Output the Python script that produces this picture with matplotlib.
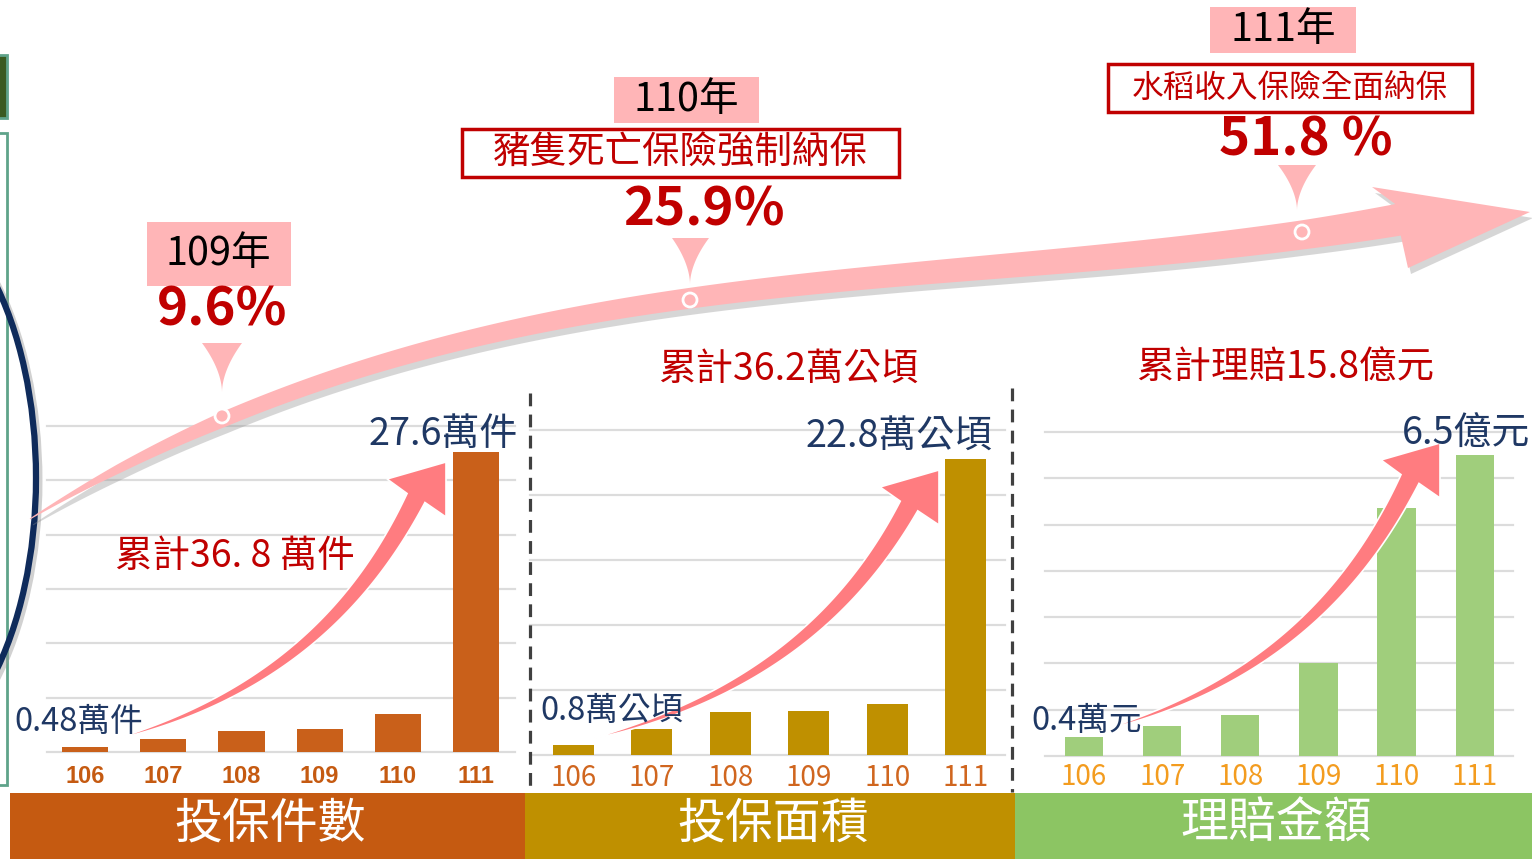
import numpy as np
import matplotlib
matplotlib.use("Agg")
import matplotlib.pyplot as plt
from matplotlib.patches import Polygon, Rectangle, Ellipse, Circle

plt.rcParams['font.family'] = ['Noto Sans CJK TC', 'DejaVu Sans']

W, H = 1532, 859

# ---- data ----
years = ['106', '107', '108', '109', '110', '111']
policies = [0.48, 1.2, 1.95, 2.1, 3.5, 27.6]      # 投保件數 (萬件)
area = [0.8, 2.0, 3.3, 3.4, 3.9, 22.8]            # 投保面積 (萬公頃)
claims = [0.4, 0.65, 0.88, 2.0, 5.35, 6.5]        # 理賠金額 (億元)

panel_titles = ['投保件數', '投保面積', '理賠金額']
first_labels = ['0.48萬件', '0.8萬公頃', '0.4萬元']
last_labels = ['27.6萬件', '22.8萬公頃', '6.5億元']
total_labels = ['累計36. 8 萬件', '累計36.2萬公頃', '累計理賠15.8億元']

cov_years = ['109年', '110年', '111年']
cov_rates = ['9.6%', '25.9%', '51.8 %']
cov_notes = [None, '豬隻死亡保險強制納保', '水稻收入保險全面納保']

RED = '#c00000'
NAVY = '#1f3864'
PINK = '#ffb5b7'
ARROW = '#ff7c80'


def bezier(p0, p1, p2, p3, n=120):
    t = np.linspace(0, 1, n)[:, None]
    return (1 - t) ** 3 * p0 + 3 * t * (1 - t) ** 2 * p1 + 3 * t ** 2 * (1 - t) * p2 + t ** 3 * p3


def band_sides(pts, widths):
    d = np.gradient(pts, axis=0)
    d /= np.linalg.norm(d, axis=1)[:, None]
    nrm = np.column_stack([-d[:, 1], d[:, 0]])
    upper = pts - nrm * widths[:, None] / 2
    lower = pts + nrm * widths[:, None] / 2
    return upper, lower


def small_arrow(ax, p0, p3):
    p0 = np.array(p0, float)
    p3 = np.array(p3, float)
    d = p3 - p0
    c1 = p0 + np.array([0.574 * d[0], 0.2 * d[1]])
    c2 = p3 + np.array([-0.155 * d[0], -0.383 * d[1]])
    pts = bezier(p0, c1, c2, p3)
    t = np.linspace(0, 1, len(pts))
    upper, lower = band_sides(pts, 0.5 + 19.5 * t ** 0.75)
    head = p3 + np.array([[-29, -19], [30, -36], [30, 19]])
    poly = np.vstack([upper, head, lower[::-1]])
    ax.add_patch(Polygon(poly, closed=True, facecolor=ARROW, edgecolor='white', lw=1.2, zorder=6))


def bar_panel(rect, values, xlim, width, ymax, step, color, tick_color, weight, family, fs, pad):
    l, t, r, b = rect
    ax = fig.add_axes([l / W, 1 - b / H, (r - l) / W, (b - t) / H])
    x = np.arange(len(years))
    ax.bar(x, values, width=width, color=color, zorder=3)
    ax.set_xlim(*xlim)
    ax.set_ylim(0, ymax)
    ax.set_yticks(np.arange(0, ymax + step / 2, step))
    ax.yaxis.grid(True, color='#dcdcdc', lw=1.6, zorder=0)
    for gl in ax.get_ygridlines():
        gl.set_clip_on(False)
    ax.set_xticks(x)
    ax.set_xticklabels(years, color=tick_color, fontsize=fs, fontweight=weight, family=family)
    ax.tick_params(left=False, labelleft=False, bottom=False, pad=pad)
    for s in ax.spines.values():
        s.set_visible(False)
    ax.patch.set_alpha(0)
    return ax


fig = plt.figure(figsize=(W / 100, H / 100), dpi=100)

bar_panel((47, 426, 515, 752), policies, (-0.49, 5.5), 0.59, 30, 5,
          '#c9601a', '#c55a11', 'bold', ['Liberation Sans', 'DejaVu Sans'], 17, 6)
bar_panel((530, 430, 1005, 755), area, (-0.55, 5.5), 0.52, 25, 5,
          '#bf9000', '#d0661f', 'normal', ['Noto Sans CJK TC', 'DejaVu Sans'], 20, 2)
bar_panel((1045, 432, 1513, 756), claims, (-0.5, 5.49), 0.49, 7, 1,
          '#a0ce7c', '#f39c1f', 'normal', ['Noto Sans CJK TC', 'DejaVu Sans'], 20, 1)

ov = fig.add_axes([0, 0, 1, 1], zorder=5)
ov.set_xlim(0, W)
ov.set_ylim(H, 0)
ov.axis('off')

# left edge decorations
ov.add_patch(Rectangle((-20, 133), 27, 652, fill=False, edgecolor='#5fa38a', lw=2))
ov.add_patch(Rectangle((-20, 55), 27, 63, facecolor='#3a5a20', edgecolor='#5fa38a', lw=2))
ov.add_patch(Ellipse((-111, 481), 300, 568, fill=False, edgecolor='#9a9a9a', lw=5, alpha=0.45))
ov.add_patch(Ellipse((-114, 478), 300, 568, fill=False, edgecolor='#0f2b5b', lw=4.5))

# big coverage arrow
kx = np.array([30, 222, 690, 1302, 1398])
ky = np.array([520, 418, 300, 232, 222])
coef = np.polyfit(kx, ky, 3)
xs = np.linspace(30, 1398, 200)
pts = np.column_stack([xs, np.polyval(coef, xs)])
ws = np.interp(xs, [30, 120, 222, 535, 906, 1302, 1398], [1, 9, 15, 19, 23, 29, 32])
up, lo = band_sides(pts, ws)
big = np.vstack([up, [[1372, 187], [1530, 212], [1408, 268]], lo[::-1]])
ov.add_patch(Polygon(big + [3, 6], closed=True, facecolor='#8c8c8c', edgecolor='none', alpha=0.35, zorder=2))
ov.add_patch(Polygon(big, closed=True, facecolor=PINK, edgecolor='none', zorder=3))

# markers on the arrow
ov.add_patch(Circle((222, 416), 7, facecolor=PINK, edgecolor='white', lw=2, zorder=4))
ov.add_patch(Circle((690, 300), 7, facecolor=PINK, edgecolor='white', lw=2, zorder=4))
ov.add_patch(Circle((1302, 232), 7, facecolor=PINK, edgecolor='white', lw=2, zorder=4))


def pointer(ax, xl, xr, ytop, tip):
    s = np.linspace(0, 1, 20)
    left = np.column_stack([xl + (tip[0] - xl) * (1 - (1 - s) ** 1.8), ytop + (tip[1] - ytop) * s])
    right = np.column_stack([xr + (tip[0] - xr) * (1 - (1 - s) ** 1.8), ytop + (tip[1] - ytop) * s])
    poly = np.vstack([left, right[::-1]])
    ax.add_patch(Polygon(poly, closed=True, facecolor=PINK, edgecolor='none', zorder=4))


# callouts
callouts = [
    dict(box=(147, 222, 291, 286), ytxt=(218, 254), note=None, rate=(222, 310), ptr=(202, 242, 343, (222, 392))),
    dict(box=(614, 77, 759, 123), ytxt=(686, 100), note=(462, 129, 899, 177, 27), rate=(704, 210),
         ptr=(672, 709, 238, (690, 284))),
    dict(box=(1210, 7, 1356, 53), ytxt=(1283, 30), note=(1108, 64, 1472, 112, 22.8), rate=(1306, 140),
         ptr=(1278, 1316, 165, (1297, 210))),
]
for c, yr, rate, note in zip(callouts, cov_years, cov_rates, cov_notes):
    x0, y0, x1, y1 = c['box']
    ov.add_patch(Rectangle((x0, y0), x1 - x0, y1 - y0, facecolor=PINK, edgecolor='none', zorder=4))
    ov.text(*c['ytxt'], yr, ha='center', va='center', fontsize=28.5, color='black', zorder=7)
    if note:
        nx0, ny0, nx1, ny1, fs = c['note']
        ov.add_patch(Rectangle((nx0, ny0), nx1 - nx0, ny1 - ny0, facecolor='white', edgecolor=RED, lw=2.5, zorder=4))
        ov.text((nx0 + nx1) / 2, (ny0 + ny1) / 2, note, ha='center', va='center', fontsize=fs, color=RED, zorder=7)
    ov.text(*c['rate'], rate, ha='center', va='center', fontsize=38, color=RED, fontweight='bold', zorder=7)
    xl, xr, yt, tip = c['ptr']
    pointer(ov, xl, xr, yt, tip)

# dashed separators
ov.plot([530, 530], [393, 786], color='#404040', lw=2.3, dashes=(4, 2.6), zorder=4)
ov.plot([1012, 1012], [388, 792], color='#404040', lw=2.3, dashes=(4, 2.6), zorder=4)

# growth arrows inside panels
small_arrow(ov, (120, 738), (416, 498))
small_arrow(ov, (595, 738), (909, 506))
small_arrow(ov, (1110, 728), (1410, 479))

# panel texts
first_pos = [(14, 722), (540, 711), (1031, 721)]
last_pos = [(518, 435), (993, 437), (1530, 433)]
total_pos = [(235, 557), (788, 369), (1285, 367)]
for i in range(3):
    ov.text(*first_pos[i], first_labels[i], ha='left', va='center', fontsize=23.5, color=NAVY, zorder=7)
    ov.text(*last_pos[i], last_labels[i], ha='right', va='center', fontsize=27.3, color=NAVY, zorder=7)
    ov.text(*total_pos[i], total_labels[i], ha='center', va='center', fontsize=27, color=RED, zorder=7)

# bottom strips
strips = [(10, 525, '#c55a11'), (525, 1015, '#bf9000'), (1015, 1532, '#8cc563')]
for (sx0, sx1, col), title in zip(strips, panel_titles):
    ov.add_patch(Rectangle((sx0, 793), sx1 - sx0, 70, facecolor=col, edgecolor='none', zorder=4))
    ov.text((sx0 + sx1) / 2 + 3, 824, title, ha='center', va='center', fontsize=34.5, color='white', zorder=7)

fig.savefig('out.png', dpi=100)
